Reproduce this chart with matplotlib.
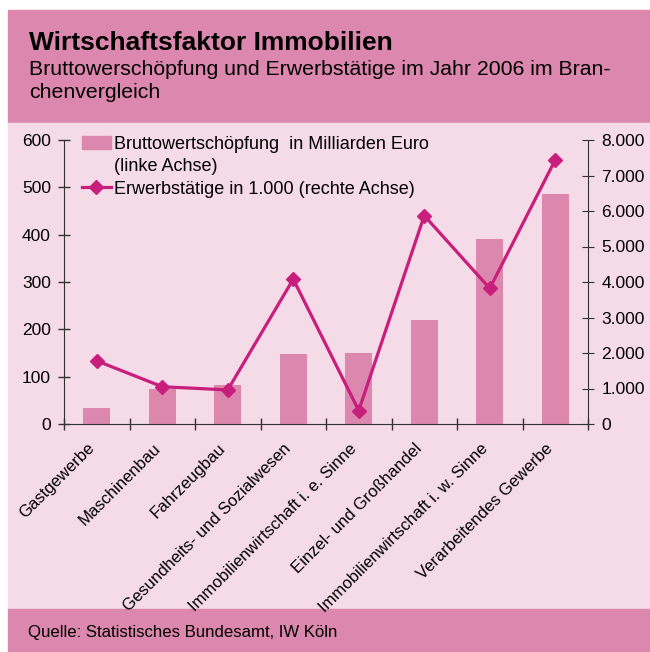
import matplotlib.pyplot as plt
import matplotlib.patches as mpatches
from matplotlib.ticker import FuncFormatter
from matplotlib.lines import Line2D
import numpy as np

plt.rcParams['font.family'] = ['Liberation Sans', 'DejaVu Sans']

# data
categories = ["Gastgewerbe", "Maschinenbau", "Fahrzeugbau",
              "Gesundheits- und Sozialwesen", "Immobilienwirtschaft i. e. Sinne",
              "Einzel- und Großhandel", "Immobilienwirtschaft i. w. Sinne",
              "Verarbeitendes Gewerbe"]
wertschoepfung = [34, 75, 82, 148, 151, 220, 391, 486]      # Mrd. Euro
erwerbstaetige = [1780, 1050, 960, 4080, 380, 5870, 3820, 7440]  # in 1.000

bar_col = "#dc88ae"
line_col = "#c81e7c"
panel_col = "#f5dae7"
dark = "#333333"

W, H = 650, 652
fig = plt.figure(figsize=(W / 100, H / 100), dpi=100)
fig.patch.set_facecolor("white")

def box(x0, y0, x1, y1, col):
    fig.patches.append(mpatches.Rectangle((x0 / W, 1 - y1 / H), (x1 - x0) / W, (y1 - y0) / H,
                                          transform=fig.transFigure, color=col, zorder=-5))

box(8, 10, 650, 123, bar_col)
box(8, 123, 650, 609, panel_col)
box(8, 609, 650, 652, bar_col)

fig.text(29 / W, 1 - 43 / H, "Wirtschaftsfaktor Immobilien", fontsize=19, fontweight="bold",
         va="center", ha="left")
fig.text(29 / W, 1 - 60 / H, "Bruttowerschöpfung und Erwerbstätige im Jahr 2006 im Bran-\nchenvergleich",
         fontsize=15.3, va="top", ha="left", linespacing=1.3)
fig.text(28 / W, 1 - 633 / H, "Quelle: Statistisches Bundesamt, IW Köln", fontsize=12.1,
         va="center", ha="left")

ax = fig.add_axes([64 / W, 1 - 424 / H, (588 - 64) / W, (424 - 140) / H])
ax.set_facecolor("none")
x = np.arange(len(categories))
ax.bar(x, wertschoepfung, width=0.41, color=bar_col, zorder=2)
ax.set_xlim(-0.5, len(categories) - 0.5)
ax.set_ylim(0, 600)
ax.set_yticks(range(0, 601, 100))
ax.set_xticks(np.arange(-0.5, len(categories), 1.0))
ax.set_xticklabels([])
for sp in ["top", "right"]:
    ax.spines[sp].set_visible(False)
for sp in ["left", "bottom"]:
    ax.spines[sp].set_color(dark)
ax.tick_params(axis="both", direction="inout", length=9, color=dark, labelsize=12.5, width=1)
ax.tick_params(axis="y", pad=5)

for i, c in enumerate(categories):
    ax.annotate(c, xy=(i, 0), xycoords=("data", "axes fraction"), xytext=(-7, -12),
                textcoords="offset points", rotation=45, ha="right", va="top",
                rotation_mode="anchor", fontsize=12)

ax2 = ax.twinx()
ax2.set_facecolor("none")
ax2.plot(x, erwerbstaetige, color=line_col, lw=2.3, marker="D", markersize=7.5, zorder=3)
ax2.set_ylim(0, 8000)
ax2.set_yticks(range(0, 8001, 1000))
ax2.yaxis.set_major_formatter(FuncFormatter(lambda v, p: f"{int(v):,}".replace(",", ".")))
for sp in ["top", "left", "bottom"]:
    ax2.spines[sp].set_visible(False)
ax2.spines["right"].set_color(dark)
ax2.tick_params(axis="y", direction="inout", length=9, color=dark, labelsize=12.5, pad=5)

handles = [mpatches.Patch(color=bar_col),
           mpatches.Patch(color="none"),
           Line2D([], [], color=line_col, lw=2.3, marker="D", markersize=7.5)]
labels = ["Bruttowertschöpfung  in Milliarden Euro",
          "(linke Achse)",
          "Erwerbstätige in 1.000 (rechte Achse)"]
ax.legend(handles, labels, loc="upper left", bbox_to_anchor=(0.02, 1.04), frameon=False,
          fontsize=13, handlelength=1.6, handleheight=0.75, handletextpad=0.2,
          labelspacing=0.3, borderaxespad=0)

fig.savefig("out.png", dpi=100, facecolor=fig.get_facecolor())
